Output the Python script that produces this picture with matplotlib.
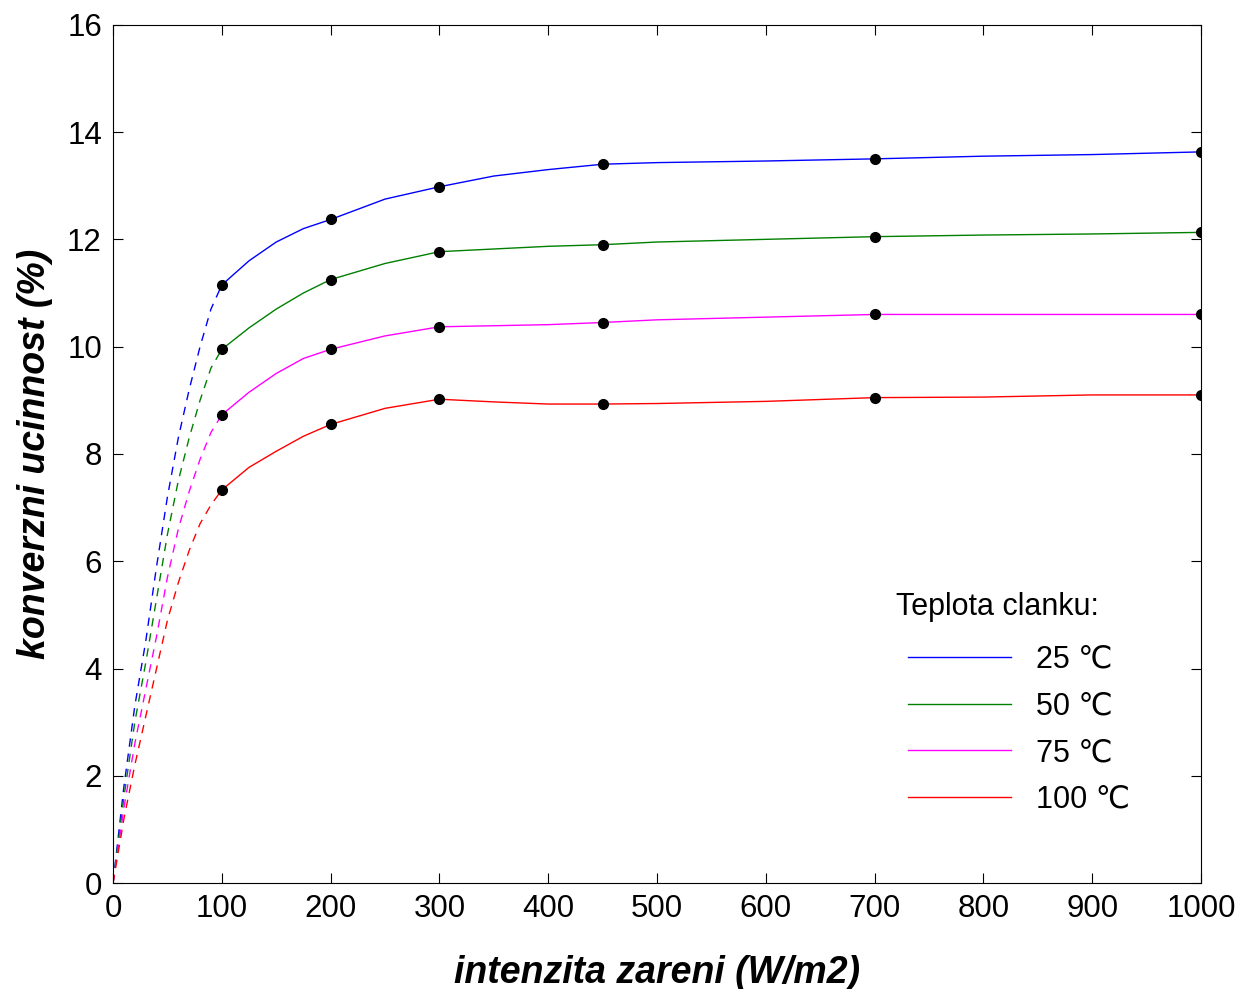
import matplotlib
matplotlib.use("Agg")
import matplotlib.pyplot as plt

plt.rcParams["font.family"] = ["Liberation Sans", "DejaVu Sans"]

# dashed (extrapolated) part, 0..100 W/m2
x_low = [0, 10, 20, 30, 40, 50, 60, 70, 80, 90, 100]
low_25 = [0, 1.8, 3.3, 4.5, 5.9, 7.2, 8.3, 9.2, 10.0, 10.7, 11.15]
low_50 = [0, 1.6, 3.0, 4.1, 5.3, 6.5, 7.5, 8.3, 9.0, 9.6, 9.95]
low_75 = [0, 1.4, 2.6, 3.6, 4.6, 5.7, 6.6, 7.3, 7.9, 8.4, 8.73]
low_100 = [0, 1.2, 2.2, 3.1, 4.0, 4.9, 5.6, 6.2, 6.7, 7.05, 7.33]

# solid part, 100..1000 W/m2
x_high = [100, 125, 150, 175, 200, 250, 300, 350, 400, 450, 500, 600, 700, 800, 900, 1000]
high_25 = [11.15, 11.6, 11.95, 12.2, 12.37, 12.75, 12.98, 13.18, 13.3, 13.4, 13.43, 13.46, 13.5, 13.55, 13.58, 13.63]
high_50 = [9.95, 10.35, 10.7, 11.0, 11.25, 11.55, 11.77, 11.82, 11.87, 11.9, 11.95, 12.0, 12.05, 12.08, 12.1, 12.13]
high_75 = [8.73, 9.15, 9.5, 9.78, 9.95, 10.2, 10.37, 10.39, 10.41, 10.45, 10.5, 10.55, 10.6, 10.6, 10.6, 10.6]
high_100 = [7.33, 7.75, 8.05, 8.33, 8.55, 8.85, 9.02, 8.97, 8.93, 8.93, 8.94, 8.98, 9.05, 9.06, 9.1, 9.1]

# marked points
x_pts = [100, 200, 300, 450, 700, 1000]
pts_25 = [11.15, 12.37, 12.98, 13.4, 13.5, 13.63]
pts_50 = [9.95, 11.25, 11.77, 11.9, 12.05, 12.13]
pts_75 = [8.73, 9.95, 10.37, 10.45, 10.6, 10.6]
pts_100 = [7.33, 8.55, 9.02, 8.93, 9.05, 9.1]

labels = ["25 \u2103", "50 \u2103", "75 \u2103", "100 \u2103"]
colors = ["#0000ff", "#008000", "#ff00ff", "#ff0000"]

fig = plt.figure(figsize=(12.42, 9.89), dpi=100)
ax = fig.add_axes([0.091, 0.107, 0.876, 0.868])

lows = [low_25, low_50, low_75, low_100]
highs = [high_25, high_50, high_75, high_100]
pts = [pts_25, pts_50, pts_75, pts_100]
for lo, hi, pt, lab, c in zip(lows, highs, pts, labels, colors):
    ax.plot(x_low, lo, color=c, lw=1, ls=(0, (6, 5)))
    ax.plot(x_high, hi, color=c, lw=1, label=lab)
    ax.plot(x_pts, pt, "o", color="black", ms=7, zorder=5)

ax.set_xlim(0, 1000)
ax.set_ylim(0, 16)
ax.set_xticks(range(0, 1001, 100))
ax.set_yticks(range(0, 17, 2))
ax.tick_params(direction="in", top=True, right=True, length=7, labelsize=22.5, pad=8)
ax.set_xlabel("intenzita zareni (W/m2)", fontsize=27, fontweight="bold", fontstyle="italic", labelpad=22)
ax.set_ylabel("konverzni ucinnost (%)", fontsize=27, fontweight="bold", fontstyle="italic", labelpad=10)

leg = ax.legend(title="Teplota clanku:", loc="upper left", bbox_to_anchor=(0.705, 0.371),
                frameon=False, fontsize=22, title_fontsize=22,
                handlelength=3.4, handletextpad=0.8, labelspacing=0.55)
leg._legend_box.align = "left"
leg.get_title().set_position((-12, 0))
leg._legend_box.sep = 16

fig.savefig("out.png", dpi=100)
